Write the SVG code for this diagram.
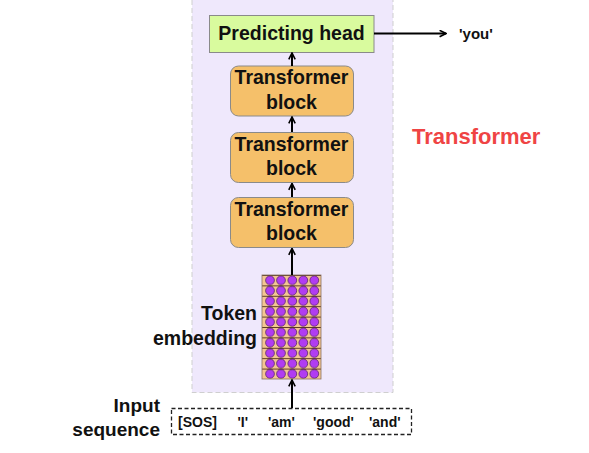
<svg xmlns="http://www.w3.org/2000/svg" width="589" height="453" viewBox="0 0 589 453">
<defs>
<marker id="ah" viewBox="0 0 10 10" refX="9" refY="5" markerWidth="8" markerHeight="8" markerUnits="userSpaceOnUse" orient="auto">
<path d="M1,1 L9,5 L1,9" fill="none" stroke="#000" stroke-width="2"/>
</marker>
<pattern id="emb" x="262" y="275" width="59" height="10.4" patternUnits="userSpaceOnUse">
<rect x="0" y="0" width="59" height="10.4" fill="#f3c693"/>
<line x1="0" y1="0.4" x2="59" y2="0.4" stroke="#5a3a20" stroke-width="1.2"/>
<g fill="#b13cf2" stroke="#4a1a5a" stroke-width="0.7">
<circle cx="8" cy="5.3" r="4.4"/><circle cx="19" cy="5.3" r="4.4"/><circle cx="30.3" cy="5.3" r="4.4"/><circle cx="41.3" cy="5.3" r="4.4"/><circle cx="52.3" cy="5.3" r="4.4"/>
</g>
</pattern>
</defs>
<style>
.t{font-family:"Liberation Sans",Arial,sans-serif;font-weight:bold;fill:#111}
.blk{fill:#f5c06a;stroke:#8a8a8a;stroke-width:1}
.c{stroke:#000;stroke-width:2;fill:none;marker-end:url(#ah)}
</style>
<rect width="589" height="453" fill="#fff"/>
<g id="transformer-region">
<rect x="192" y="-2" width="201" height="394.5" fill="#efe8fc" stroke="#cfcfcf" stroke-width="1" stroke-dasharray="5,3"/>
<text class="t" x="412" y="144" font-size="22" style="fill:#ef4444">Transformer</text>
</g>
<g id="predicting-head">
<rect x="209.5" y="15.5" width="164.5" height="37" fill="#d9fb9e" stroke="#8a8a8a" stroke-width="1"/>
<text class="t" x="291.5" y="40" font-size="19.5" text-anchor="middle">Predicting head</text>
</g>
<g id="block1">
<rect class="blk" x="230.5" y="66" width="123" height="50" rx="8"/>
<text class="t" x="291.5" y="84" font-size="19.5" text-anchor="middle">Transformer</text>
<text class="t" x="291.5" y="108.5" font-size="19.5" text-anchor="middle">block</text>
</g>
<g id="block2">
<rect class="blk" x="230.5" y="132.5" width="123" height="50" rx="8"/>
<text class="t" x="291.5" y="150.5" font-size="19.5" text-anchor="middle">Transformer</text>
<text class="t" x="291.5" y="175" font-size="19.5" text-anchor="middle">block</text>
</g>
<g id="block3">
<rect class="blk" x="230.5" y="197.5" width="123" height="50" rx="8"/>
<text class="t" x="291.5" y="215.5" font-size="19.5" text-anchor="middle">Transformer</text>
<text class="t" x="291.5" y="240" font-size="19.5" text-anchor="middle">block</text>
</g>
<g id="token-embedding">
<rect x="262" y="275" width="59" height="104" fill="url(#emb)" stroke="#8a7060" stroke-width="0.8"/>
<text class="t" x="257" y="320" font-size="19.5" text-anchor="end">Token</text>
<text class="t" x="257" y="345" font-size="19.5" text-anchor="end">embedding</text>
</g>
<g id="input-sequence">
<rect x="171.5" y="408.5" width="240" height="26" fill="#fff" stroke="#222" stroke-width="1.3" stroke-dasharray="4,2.5"/>
<text class="t" x="160" y="411.5" font-size="19" text-anchor="end">Input</text>
<text class="t" x="160" y="436" font-size="19" text-anchor="end">sequence</text>
<text class="t" x="178" y="427" font-size="14">[SOS]</text>
<text class="t" x="237.5" y="427" font-size="14">'I'</text>
<text class="t" x="268" y="427" font-size="14">'am'</text>
<text class="t" x="313" y="427" font-size="14">'good'</text>
<text class="t" x="369" y="427" font-size="14">'and'</text>
</g>
<g id="output">
<text class="t" x="459" y="39" font-size="15">'you'</text>
</g>
<g id="connectors">
<line class="c" x1="292" y1="408" x2="292" y2="380"/>
<line class="c" x1="292" y1="275" x2="292" y2="248.5"/>
<line class="c" x1="292" y1="197" x2="292" y2="183.5"/>
<line class="c" x1="292" y1="132" x2="292" y2="117"/>
<line class="c" x1="292" y1="66" x2="292" y2="53"/>
<line class="c" x1="374" y1="33.5" x2="446" y2="33.5"/>
</g>
</svg>
